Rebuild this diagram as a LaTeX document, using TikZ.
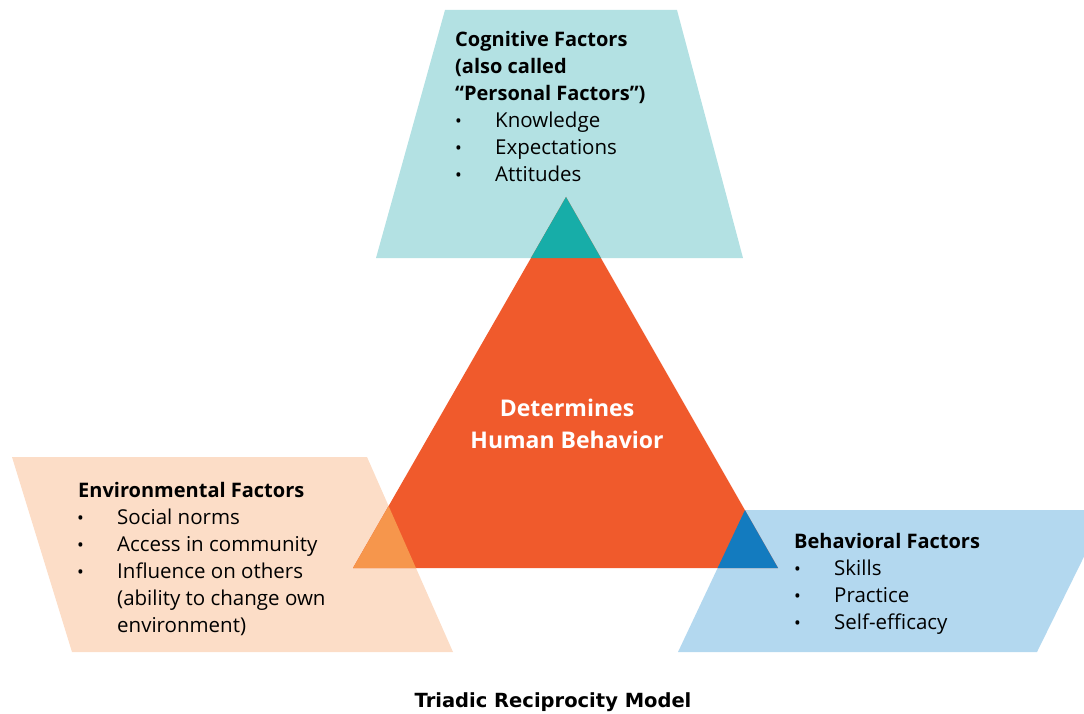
\documentclass[tikz,border=0pt]{standalone}
\usepackage{fontspec}
\setmainfont{Open Sans}
\newfontfamily\capfont{DejaVu Sans}
\usetikzlibrary{positioning}

\definecolor{cogLight}{HTML}{B3E1E3}
\definecolor{cogDark}{HTML}{17ADA8}
\definecolor{envLight}{HTML}{FCDDC7}
\definecolor{envDark}{HTML}{F6964C}
\definecolor{behLight}{HTML}{B3D8EF}
\definecolor{behDark}{HTML}{137BBF}
\definecolor{coreOrange}{HTML}{F05A2C}

\begin{document}
\begin{tikzpicture}[x=1pt, y=-1pt,
    head/.style={anchor=base west, inner sep=0pt, font=\fontsize{20}{24}\selectfont\bfseries},
    entry/.style={anchor=base west, inner sep=0pt, font=\fontsize{20.5}{24}\selectfont},
    dot/.style={anchor=base west, inner sep=0pt, font=\fontsize{18}{24}\selectfont}]
  \useasboundingbox (0,0) rectangle (1084,714);
  \clip (0,0) rectangle (1084,714);

  % corner points
  \coordinate (T1) at (445,10);
  \coordinate (T2) at (677,10);
  \coordinate (T3) at (743,258);
  \coordinate (T4) at (376,258);

  \coordinate (E1) at (12,457);
  \coordinate (E2) at (367,457);
  \coordinate (E3) at (453,652);
  \coordinate (E4) at (72,652);

  \coordinate (B1) at (745,510);
  \coordinate (B2) at (1107,510);
  \coordinate (B3) at (1037,652);
  \coordinate (B4) at (678,652);

  \coordinate (A) at (566,197);
  \coordinate (L) at (353,568);
  \coordinate (R) at (778,568);

  % factor panels
  \fill[cogLight] (T1) -- (T2) -- (T3) -- (T4) -- cycle;
  \fill[envLight] (E1) -- (E2) -- (E3) -- (E4) -- cycle;
  \fill[behLight] (B1) -- (B2) -- (B3) -- (B4) -- cycle;

  % central triangle and its overlaps
  \fill[coreOrange] (A) -- (R) -- (L) -- cycle;
  \begin{scope}
    \clip (T1) -- (T2) -- (T3) -- (T4) -- cycle;
    \fill[cogDark] (A) -- (R) -- (L) -- cycle;
  \end{scope}
  \begin{scope}
    \clip (E1) -- (E2) -- (E3) -- (E4) -- cycle;
    \fill[envDark] (A) -- (R) -- (L) -- cycle;
  \end{scope}
  \begin{scope}
    \clip (B1) -- (B2) -- (B3) -- (B4) -- cycle;
    \fill[behDark] (A) -- (R) -- (L) -- cycle;
  \end{scope}

  % cognitive factors
  \node[head] (cogHead) at (455,47) {Cognitive Factors};
  \node[head] (cogAlso) at (455,74) {(also called};
  \node[head] (cogPers) at (455,101) {“Personal Factors”)};
  \node[dot] at (455,128) {•};
  \node[entry] (cogK) at (495,128) {Knowledge};
  \node[dot] at (455,155) {•};
  \node[entry] (cogE) at (495,155) {Expectations};
  \node[dot] at (455,182) {•};
  \node[entry] (cogA) at (495,182) {Attitudes};

  % core label
  \node[align=center, text=white, inner sep=0pt,
        font=\fontsize{23}{32}\selectfont\bfseries] (core) at (567,424)
        {Determines\\Human Behavior};

  % environmental factors
  \node[head] (envHead) at (78,497) {Environmental Factors};
  \node[dot] at (77,524) {•};
  \node[entry] (envS) at (117,524) {Social norms};
  \node[dot] at (77,551) {•};
  \node[entry] (envA) at (117,551) {Access in community};
  \node[dot] at (77,578) {•};
  \node[entry] (envI) at (117,578) {Influence on others};
  \node[entry] (envAb) at (117,605) {(ability to change own};
  \node[entry] (envEn) at (117,632) {environment)};

  % behavioral factors
  \node[head] (behHead) at (794,548) {Behavioral Factors};
  \node[dot] at (794,575) {•};
  \node[entry] (behS) at (834,575) {Skills};
  \node[dot] at (794,602) {•};
  \node[entry] (behP) at (834,602) {Practice};
  \node[dot] at (794,629) {•};
  \node[entry] (behE) at (834,629) {Self-efficacy};

  % caption
  \node[anchor=base, inner sep=0pt, font=\capfont\fontsize{19.5}{24}\selectfont\bfseries]
        (caption) at (553,707) {Triadic Reciprocity Model};
\end{tikzpicture}
\end{document}
